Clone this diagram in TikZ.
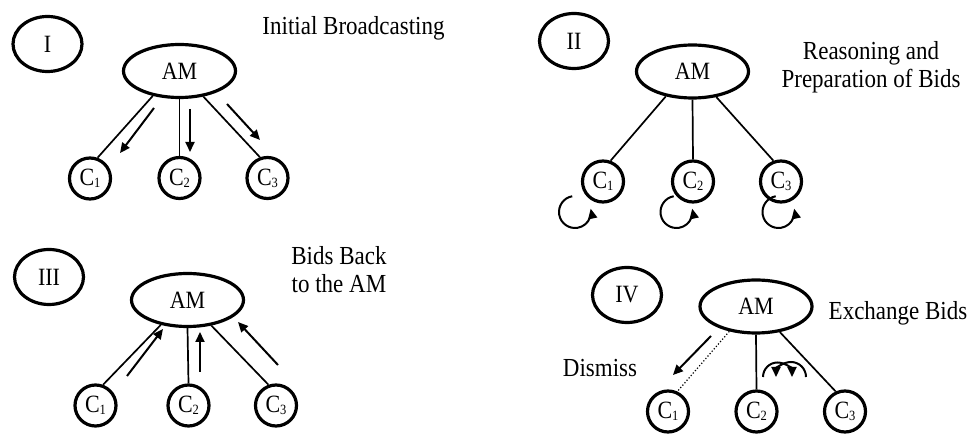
\documentclass[tikz,border=0pt]{standalone}
\usepackage{fontspec}
\usepackage{graphicx}
\setmainfont{Liberation Serif}
\usetikzlibrary{shapes.geometric,arrows.meta}
\newcommand{\vs}[1]{\scalebox{1}[1.13]{#1}}
\newcommand{\csub}[1]{\vs{C\raisebox{-1.5pt}{\fontsize{12.5}{12.5}\selectfont #1}}}
\begin{document}
\begin{tikzpicture}[x=1pt,y=-1pt,
  font=\fontsize{22}{27}\selectfont,
  numell/.style={draw,ellipse,line width=3.2pt,minimum width=69pt,minimum height=55pt,inner sep=0pt},
  amell/.style={draw,ellipse,line width=3.2pt,minimum width=112pt,minimum height=53pt,inner sep=0pt},
  cnode/.style={draw,circle,line width=3.2pt,minimum size=41pt,inner sep=0pt},
  link/.style={line width=1.7pt},
  msg/.style={line width=2pt,-{Triangle[length=10pt,width=9pt]}},
  lbl/.style={font=\fontsize{23}{28}\selectfont,align=center,inner sep=0pt},
]
\useasboundingbox (0,0) rectangle (969,435);

% ---------- Panel I ----------
\node[numell] (n1) at (47.5,44) {\vs{I}};
\node[amell] (am1) at (179.5,71) {\vs{AM}};
\node[cnode] (a1) at (90,178.5) {\csub1};
\node[cnode] (a2) at (179.5,178) {\csub2};
\node[cnode] (a3) at (267.5,178) {\csub3};
\draw[link] (am1.223) -- (a1.70);
\draw[link] (am1.south) -- (a2.north);
\draw[link] (am1.313) -- (a3.110);
\coordinate (p1s) at (154,108); \coordinate (p1e) at (120,153);
\coordinate (p2s) at (190,109); \coordinate (p2e) at (190,152);
\coordinate (p3s) at (227,104); \coordinate (p3e) at (260,140);
\draw[msg] (p1s) -- (p1e);
\draw[msg] (p2s) -- (p2e);
\draw[msg] (p3s) -- (p3e);
\node[lbl,anchor=base] (t1) at (353.5,35) {\vs{Initial Broadcasting}};

% ---------- Panel II ----------
\node[numell] (n2) at (574,41) {\vs{II}};
\node[amell] (am2) at (692.5,71.5) {\vs{AM}};
\node[cnode] (b1) at (603,181.5) {\csub1};
\node[cnode] (b2) at (693,181.5) {\csub2};
\node[cnode] (b3) at (781,181.5) {\csub3};
\draw[link] (am2.223) -- (b1.70);
\draw[link] (am2.south) -- (b2.north);
\draw[link] (am2.313) -- (b3.110);
\coordinate (l1) at (575,212);
\coordinate (l2) at (676.5,212);
\coordinate (l3) at (778.5,212);
\foreach \c in {l1,l2,l3}
  \draw[msg] ([shift={(100:16pt)}]\c) arc[start angle=100,end angle=372,radius=16pt];
\node[lbl] (t2) at (871,67) {\vs{Reasoning and}\\\vs{Preparation of Bids}};

% ---------- Panel III ----------
\node[numell] (n3) at (49,277) {\vs{III}};
\node[amell] (am3) at (187.5,300) {\vs{AM}};
\node[cnode] (c1) at (95.5,405.5) {\csub1};
\node[cnode] (c2) at (188.5,405.5) {\csub2};
\node[cnode] (c3) at (276,405.5) {\csub3};
\draw[link] (am3.223) -- (c1.70);
\draw[link] (am3.south) -- (c2.north);
\draw[link] (am3.313) -- (c3.110);
\coordinate (q1s) at (127,376); \coordinate (q1e) at (163,329);
\coordinate (q2s) at (200,372); \coordinate (q2e) at (200,332);
\coordinate (q3s) at (278,365); \coordinate (q3e) at (238,322);
\draw[msg] (q1s) -- (q1e);
\draw[msg] (q2s) -- (q2e);
\draw[msg] (q3s) -- (q3e);
\node[lbl] (t3) at (339,269.5) {\vs{Bids Back}\\\vs{to the AM}};

% ---------- Panel IV ----------
\node[numell] (n4) at (627,295) {\vs{IV}};
\node[amell] (am4) at (756,306.5) {\vs{AM}};
\node[cnode] (d1) at (668,411.5) {\csub1};
\node[cnode] (d2) at (756.5,411.5) {\csub2};
\node[cnode] (d3) at (845,411.5) {\csub3};
\draw[line width=1.2pt,dotted] (am4.223) -- (d1.65);
\draw[link] (am4.south) -- (d2.north);
\draw[link] (am4.313) -- (d3.115);
\coordinate (r1s) at (711,336); \coordinate (r1e) at (673,375);
\draw[msg] (r1s) -- (r1e);
\coordinate (xa) at (777.5,377);
\coordinate (xb) at (791,377);
\draw[msg] ([shift={(180:14.5pt)}]xa) arc[start angle=180,end angle=0,radius=14.5pt];
\draw[msg] ([shift={(0:15pt)}]xb) arc[start angle=0,end angle=180,radius=15pt];
\node[lbl,anchor=base] (t4) at (898,320) {\vs{Exchange Bids}};
\node[lbl,anchor=base] (t5) at (600,377) {\vs{Dismiss}};
\end{tikzpicture}
\end{document}
